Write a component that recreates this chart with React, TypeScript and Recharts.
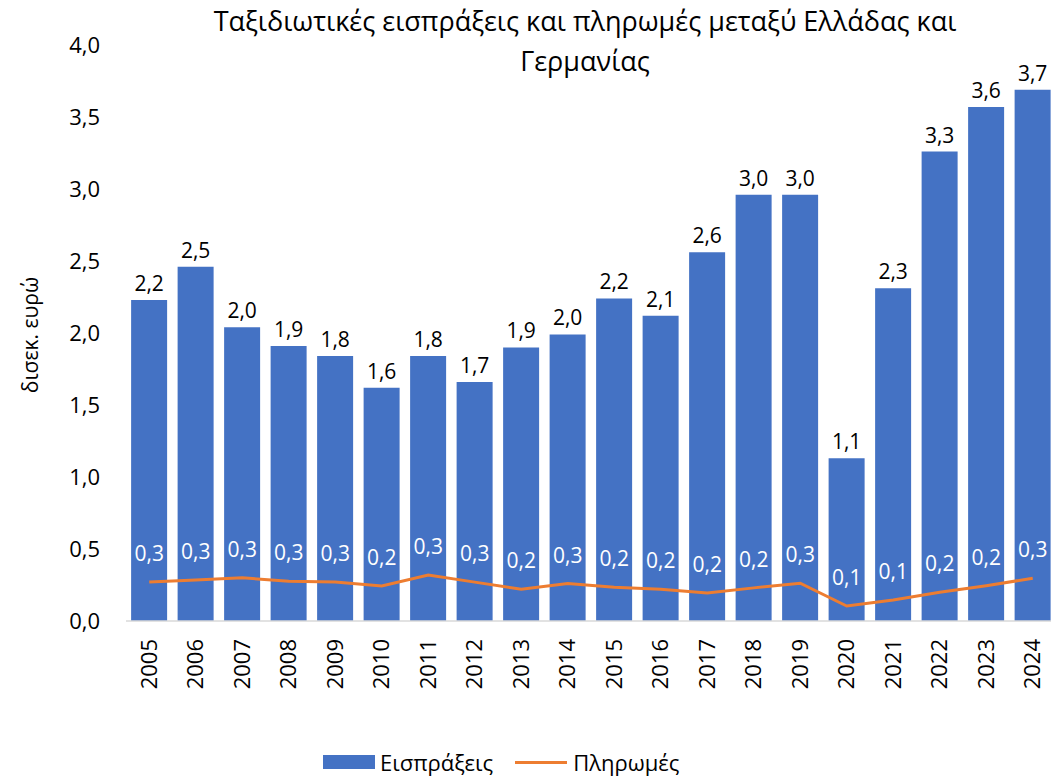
import { ComposedChart, Bar, Line, XAxis, YAxis, LabelList } from "recharts";

const years = [
  "2005", "2006", "2007", "2008", "2009", "2010", "2011", "2012", "2013", "2014",
  "2015", "2016", "2017", "2018", "2019", "2020", "2021", "2022", "2023", "2024",
];
// δισεκ. ευρώ
const receipts = [
  2.23, 2.46, 2.04, 1.91, 1.84, 1.62, 1.84, 1.66, 1.9, 1.99,
  2.24, 2.12, 2.56, 2.96, 2.96, 1.13, 2.31, 3.26, 3.57, 3.69,
];
const payments = [
  0.27, 0.285, 0.3, 0.276, 0.27, 0.243, 0.32, 0.27, 0.22, 0.26,
  0.235, 0.22, 0.195, 0.23, 0.262, 0.104, 0.146, 0.2, 0.245, 0.297,
];
const yTicks = [0, 0.5, 1, 1.5, 2, 2.5, 3, 3.5, 4];

const data = years.map((y, i) => ({ year: y, receipts: receipts[i], payments: payments[i] }));

const FONT = "'Open Sans', 'Noto Sans', sans-serif";
const BLUE = "#4472C4";
const ORANGE = "#ED7D31";
const fmt = (v: number) => v.toFixed(1).replace(".", ",");

const YearTick = (props: any) => {
  const { x, y, payload } = props;
  return (
    <text
      x={0}
      y={0}
      transform={`translate(${x},${y + 10}) rotate(-90)`}
      textAnchor="end"
      dy="0.35em"
      fontSize={22}
      fill="#000"
      fontFamily={FONT}
    >
      {payload.value}
    </text>
  );
};

export default function App() {
  return (
    <div
      style={{
        position: "absolute",
        left: 0,
        top: 0,
        width: 1051,
        height: 778,
        overflow: "hidden",
        background: "#fff",
        fontFamily: FONT,
      }}
    >
      <div
        style={{
          position: "absolute",
          left: 85,
          width: 1000,
          top: 1,
          textAlign: "center",
          fontSize: 27,
          lineHeight: "40px",
          color: "#000",
        }}
      >
        Ταξιδιωτικές εισπράξεις και πληρωμές μεταξύ Ελλάδας και
        <br />
        Γερμανίας
      </div>
      <div
        style={{
          position: "absolute",
          left: 30,
          top: 335,
          transform: "translate(-50%, -50%) rotate(-90deg)",
          fontSize: 21,
          whiteSpace: "nowrap",
          color: "#000",
        }}
      >
        δισεκ. ευρώ
      </div>
      <ComposedChart
        width={1060}
        height={778}
        data={data}
        margin={{ top: 45, right: 4, bottom: 0, left: 0 }}
        barCategoryGap="11%"
        style={{ position: "absolute", left: 0, top: 0 }}
      >
        <XAxis
          dataKey="year"
          height={157}
          tickLine={false}
          axisLine={{ stroke: "#d9d9d9", strokeWidth: 1.5 }}
          tick={<YearTick />}
          interval={0}
        />
        <YAxis
          width={126}
          domain={[0, 4]}
          ticks={yTicks}
          tickFormatter={fmt}
          axisLine={false}
          tickLine={false}
          tickMargin={20}
          tick={{ fontSize: 22, fill: "#000", fontFamily: FONT }}
        />
        <Bar dataKey="receipts" fill={BLUE} isAnimationActive={false}>
          <LabelList
            dataKey="receipts"
            position="top"
            offset={9}
            formatter={(v: any) => fmt(Number(v))}
            style={{ fontSize: 21, fill: "#000", fontFamily: FONT }}
          />
        </Bar>
        <Line
          dataKey="payments"
          stroke={ORANGE}
          strokeWidth={3}
          dot={false}
          type="linear"
          isAnimationActive={false}
        >
          <LabelList
            dataKey="payments"
            position="top"
            offset={21}
            formatter={(v: any) => fmt(Number(v))}
            style={{ fontSize: 21, fill: "#fff", fontFamily: FONT }}
          />
        </Line>
      </ComposedChart>
      <div
        style={{
          position: "absolute",
          top: 747,
          left: 323,
          display: "flex",
          alignItems: "center",
          fontSize: 22,
          color: "#000",
        }}
      >
        <span style={{ display: "inline-block", width: 52, height: 14, background: BLUE, marginRight: 5 }} />
        <span style={{ marginRight: 22 }}>Εισπράξεις</span>
        <span style={{ display: "inline-block", width: 52, height: 3, background: ORANGE, marginRight: 6 }} />
        <span>Πληρωμές</span>
      </div>
    </div>
  );
}
